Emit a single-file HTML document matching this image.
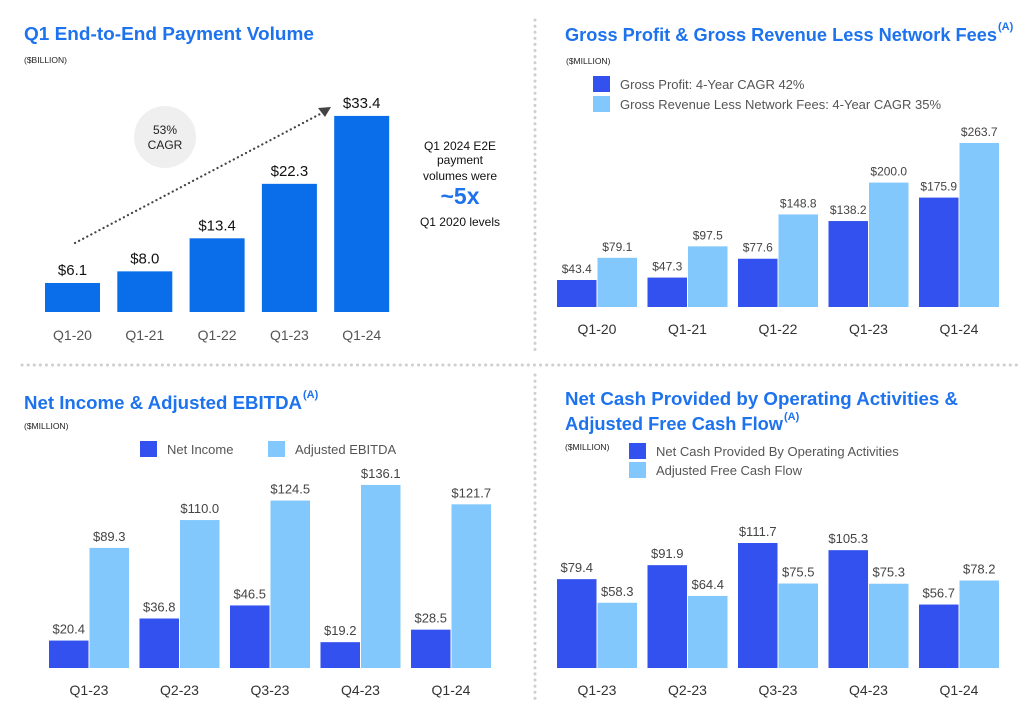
<!DOCTYPE html>
<html><head><meta charset="utf-8"><style>
html,body{margin:0;padding:0;background:#fff;}
svg{display:block;font-family:"Liberation Sans",sans-serif;}
</style></head><body>
<svg id="s" width="1036" height="712" viewBox="0 0 1036 712" xmlns="http://www.w3.org/2000/svg">
<g stroke="#cfcfcf" stroke-width="3" stroke-dasharray="0.1 6" stroke-linecap="round">
<line x1="22" y1="365" x2="1022" y2="365"/>
<line x1="535" y1="20" x2="535" y2="352"/>
<line x1="535" y1="375" x2="535" y2="700"/>
</g>
<g fill="#1d72ee" font-weight="bold" font-size="18">
<text x="24" y="40" textLength="290" lengthAdjust="spacingAndGlyphs">Q1 End-to-End Payment Volume</text>
<text x="565" y="41" textLength="432" lengthAdjust="spacingAndGlyphs">Gross Profit &amp; Gross Revenue Less Network Fees</text>
<text x="24" y="409" textLength="278" lengthAdjust="spacingAndGlyphs">Net Income &amp; Adjusted EBITDA</text>
<text x="565" y="405" textLength="393" lengthAdjust="spacingAndGlyphs">Net Cash Provided by Operating Activities &amp;</text>
<text x="565" y="430" textLength="218" lengthAdjust="spacingAndGlyphs">Adjusted Free Cash Flow</text>
</g>
<g fill="#1d72ee" font-weight="bold" font-size="11">
<text x="998" y="30">(A)</text>
<text x="303" y="398">(A)</text>
<text x="784" y="420">(A)</text>
</g>
<g fill="#222" font-size="8.5">
<text x="24" y="63">($BILLION)</text>
<text x="566" y="64">($MILLION)</text>
<text x="24" y="429">($MILLION)</text>
<text x="565" y="450">($MILLION)</text>
</g>
<circle cx="165" cy="137" r="31" fill="#efefef"/>
<text x="165" y="134" text-anchor="middle" font-size="12" fill="#222">53%</text>
<text x="165" y="149" text-anchor="middle" font-size="12" fill="#222">CAGR</text>
<line x1="75" y1="243" x2="322" y2="113" stroke="#444" stroke-width="2.2" stroke-dasharray="0.1 4.5" stroke-linecap="round"/>
<polygon points="331,107 318,108 325,117" fill="#444"/>
<g text-anchor="middle" fill="#111" font-size="12">
<text x="460" y="150">Q1 2024 E2E</text>
<text x="460" y="164">payment</text>
<text x="460" y="180">volumes were</text>
<text x="460" y="204" font-size="23" font-weight="bold" fill="#1d72ee">~5x</text>
<text x="460" y="226">Q1 2020 levels</text>
</g>
<g id="c1"></g><g id="c2"></g><g id="c3"></g><g id="c4"></g>
</svg>
<script>
// Chart 1 data
const c1Cats=["Q1-20","Q1-21","Q1-22","Q1-23","Q1-24"];
const c1Vals=[6.1,8.0,13.4,22.3,33.4];
const c1Labels=["$6.1","$8.0","$13.4","$22.3","$33.4"];
// Chart 2 data
const c2Cats=["Q1-20","Q1-21","Q1-22","Q1-23","Q1-24"];
const c2Gross=[43.4,47.3,77.6,138.2,175.9];
const c2Rev=[79.1,97.5,148.8,200.0,263.7];
// Chart 3 data
const c3Cats=["Q1-23","Q2-23","Q3-23","Q4-23","Q1-24"];
const c3NetIncome=[20.4,36.8,46.5,19.2,28.5];
const c3Ebitda=[89.3,110.0,124.5,136.1,121.7];
// Chart 4 data
const c4Cats=["Q1-23","Q2-23","Q3-23","Q4-23","Q1-24"];
const c4NetCash=[79.4,91.9,111.7,105.3,56.7];
const c4Fcf=[58.3,64.4,75.5,75.3,78.2];

const NS="http://www.w3.org/2000/svg";
const DARK="#3251ee",LIGHT="#82c8fc",BLUE="#0a6de9";
function mk(parent,tag,attrs,txt){const e=document.createElementNS(NS,tag);for(const k in attrs)e.setAttribute(k,attrs[k]);if(txt!==undefined)e.textContent=txt;parent.appendChild(e);return e;}
function fmt(v){return "$"+v.toFixed(1);}

(function(){
  const g=document.getElementById("c1");
  const base=312,k=6.12,v0=1.36,x0=45,step=72.3,w=55;
  const y=v=>base-k*(v-v0);
  c1Vals.forEach((v,i)=>{
    const x=x0+i*step;
    const r=mk(g,"rect",{x:x,y:y(v),width:w,height:base-y(v),fill:BLUE});
    
    
    const t=mk(g,"text",{x:x+w/2,y:y(v)-8,"text-anchor":"middle","font-size":"15",fill:"#111"},c1Labels[i]);
    
    
    const c=mk(g,"text",{x:x+w/2,y:340,"text-anchor":"middle","font-size":"14",fill:"#555"},c1Cats[i]);
    
    
  });
})();

function grouped(gid,cats,a,b,opt){
  const g=document.getElementById(gid);
  const y=v=>opt.base-opt.k*v;
  cats.forEach((cat,i)=>{
    const x=opt.x0+i*opt.step;
    [[a[i],DARK,x,0],[b[i],LIGHT,x+opt.w+1,1]].forEach(([v,col,bx,j])=>{
      const r=mk(g,"rect",{x:bx,y:y(v),width:opt.w,height:opt.base-y(v),fill:col});
      
      
      const t=mk(g,"text",{x:bx+opt.w/2,y:y(v)-7,"text-anchor":"middle","font-size":opt.fs,fill:"#444"},fmt(v));
      
      
    });
    const c=mk(g,"text",{x:x+opt.w+0.5,y:opt.base+27,"text-anchor":"middle","font-size":"14",fill:"#333"},cat);
    
    
  });
  opt.legend.forEach((L,j)=>{
    const r=mk(g,"rect",{x:L.x,y:L.y,width:17,height:16,fill:j?LIGHT:DARK});
    
    
    const t=mk(g,"text",{x:L.x+27,y:L.y+13,"font-size":"13",fill:"#555"},L.t);
    
    
  });
}
grouped("c2",c2Cats,c2Gross,c2Rev,{base:307,k:0.622,x0:557,step:90.5,w:39.5,fs:12,names:["gross-profit","gross-revenue"],
  legend:[{x:593,y:76,t:"Gross Profit: 4-Year CAGR 42%"},{x:593,y:96,t:"Gross Revenue Less Network Fees: 4-Year CAGR 35%"}]});
grouped("c3",c3Cats,c3NetIncome,c3Ebitda,{base:668,k:1.345,x0:49,step:90.5,w:39.5,fs:13,names:["net-income","adjusted-ebitda"],
  legend:[{x:140,y:441,t:"Net Income"},{x:268,y:441,t:"Adjusted EBITDA"}]});
grouped("c4",c4Cats,c4NetCash,c4Fcf,{base:668,k:1.119,x0:557,step:90.5,w:39.5,fs:13,names:["net-cash","free-cash-flow"],
  legend:[{x:629,y:443,t:"Net Cash Provided By Operating Activities"},{x:629,y:462,t:"Adjusted Free Cash Flow"}]});
</script>
</body></html>
